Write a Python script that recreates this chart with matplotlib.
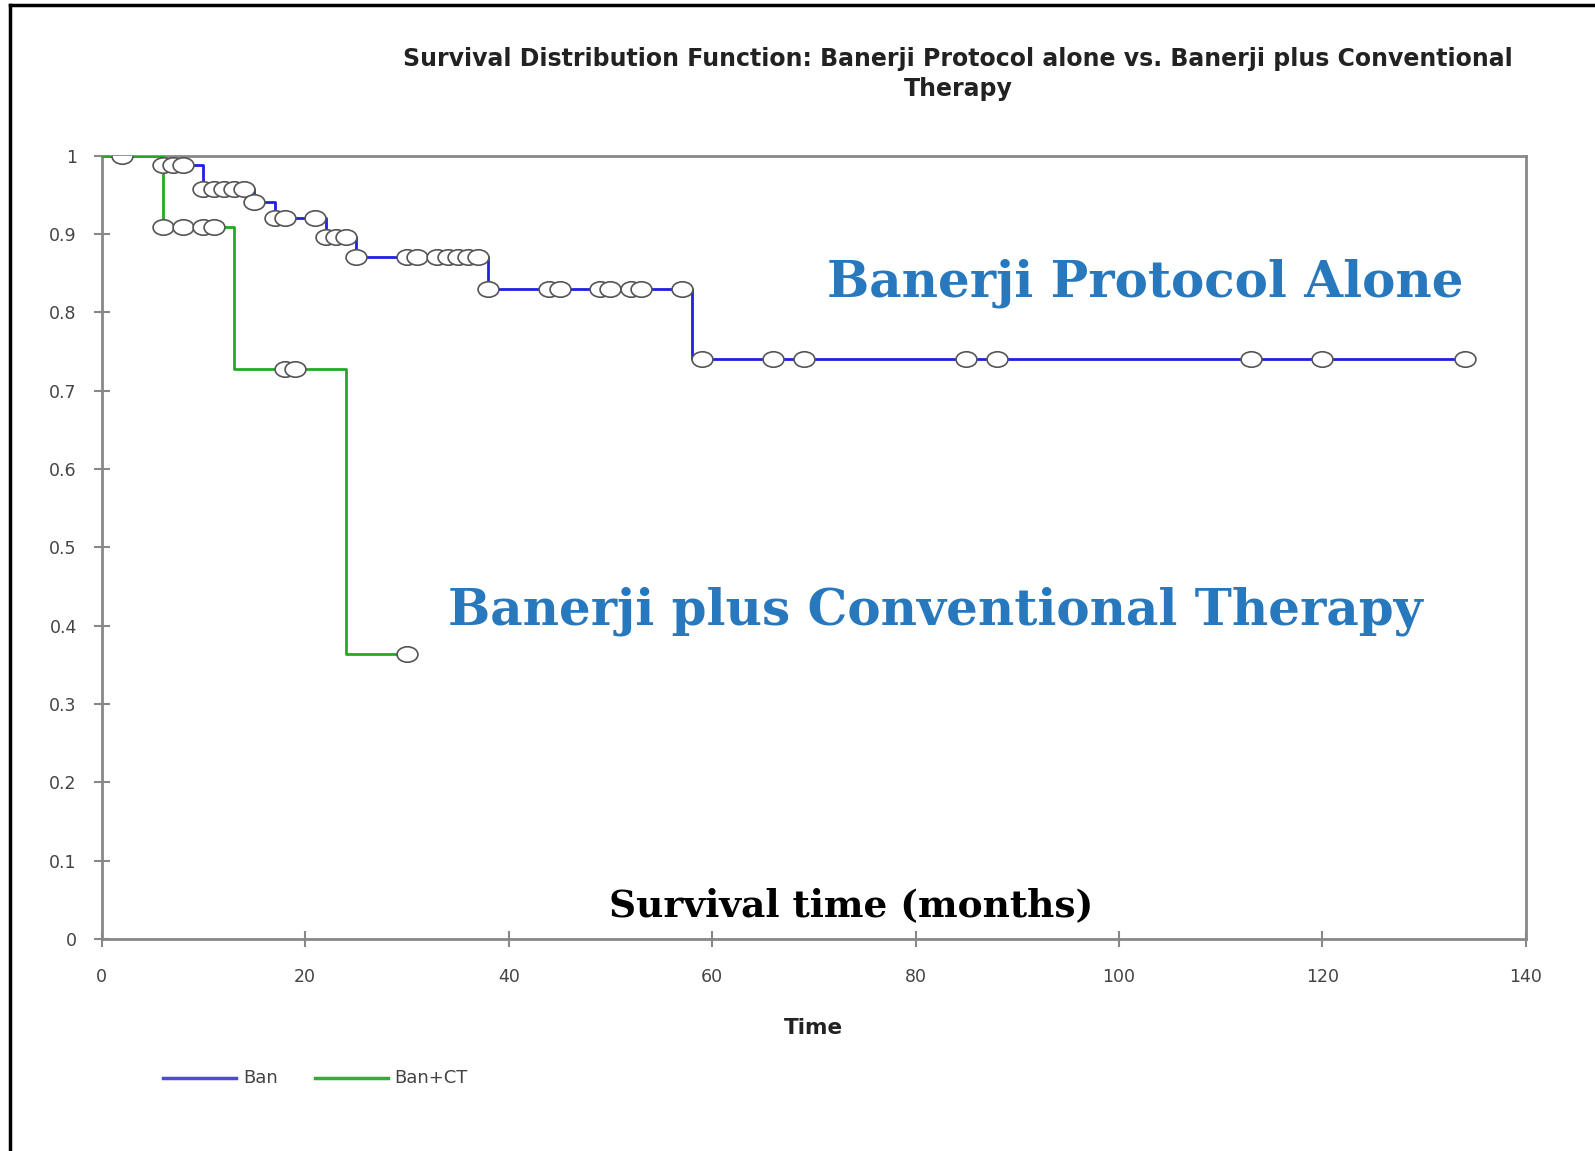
import numpy as np
import matplotlib.pyplot as plt
from matplotlib.path import Path
from matplotlib.transforms import Affine2D
from matplotlib.lines import Line2D

# Kaplan-Meier steps
ban_times = [0, 6, 10, 15, 17, 22, 25, 38, 58, 134]
ban_surv = [1.0, 0.988, 0.958, 0.941, 0.920, 0.896, 0.870, 0.830, 0.740, 0.740]
ban_censor = [6, 7, 8, 10, 11, 12, 13, 14, 15, 17, 18, 21, 22, 23, 24, 25,
              30, 31, 33, 34, 35, 36, 37, 38, 44, 45, 49, 50, 52, 53, 57,
              59, 66, 69, 85, 88, 113, 120, 134]

ct_times = [0, 6, 13, 24, 30]
ct_surv = [1.0, 0.909, 0.727, 0.364, 0.364]
ct_censor = [2, 6, 8, 10, 11, 18, 19, 30]

x_ticks = [0, 20, 40, 60, 80, 100, 120, 140]
y_ticks = [0, 0.1, 0.2, 0.3, 0.4, 0.5, 0.6, 0.7, 0.8, 0.9, 1]
y_labels = ['0', '0.1', '0.2', '0.3', '0.4', '0.5', '0.6', '0.7', '0.8', '0.9', '1']

BLUE = '#2020e0'
GREEN = '#22aa22'
TXT_BLUE = '#2878be'


def step_value(times, surv, t):
    i = np.searchsorted(times, t, side='right') - 1
    return np.asarray(surv)[i]


# flat ellipse marker for censored cases
oval = Path.unit_circle().transformed(Affine2D().scale(1.35, 1.0))

fig = plt.figure(figsize=(15.95, 11.51), dpi=100)
ax = fig.add_axes([0.0638, 0.1842, 0.8929, 0.6806])

ax.step(ban_times, ban_surv, where='post', color=BLUE, lw=2, zorder=2)
ax.step(ct_times, ct_surv, where='post', color=GREEN, lw=2, zorder=3)

ax.plot(ban_censor, step_value(ban_times, ban_surv, ban_censor), ls='none',
        marker=oval, ms=15, mfc='white', mec='#555555', mew=1.2, zorder=4)
ax.plot(ct_censor, step_value(ct_times, ct_surv, ct_censor), ls='none',
        marker=oval, ms=15, mfc='white', mec='#555555', mew=1.2, zorder=4)

ax.set_xlim(0, 140)
ax.set_ylim(0, 1)
ax.set_xticks(x_ticks)
ax.set_yticks(y_ticks)
ax.set_yticklabels(y_labels)
for s in ax.spines.values():
    s.set_color('#888888')
    s.set_linewidth(2)
ax.tick_params(axis='both', direction='inout', length=12, width=1.5,
               color='#888888', labelsize=12.5, labelcolor='#444444')
ax.tick_params(axis='y', pad=12)
ax.tick_params(axis='x', pad=15)
ax.tick_params(top=False, right=False)

ax.text(102.6, 0.837, 'Banerji Protocol Alone', family='DejaVu Serif',
        weight='bold', fontsize=36, color=TXT_BLUE, ha='center', va='center')
ax.text(81.9, 0.418, 'Banerji plus Conventional Therapy', family='DejaVu Serif',
        weight='bold', fontsize=36, color=TXT_BLUE, ha='center', va='center')
ax.text(73.7, 0.042, 'Survival time (months)', family='DejaVu Serif',
        weight='bold', fontsize=27, color='black', ha='center', va='center')

fig.text(0.6006, 0.9357,
         'Survival Distribution Function: Banerji Protocol alone vs. Banerji plus Conventional\nTherapy',
         ha='center', va='center', fontsize=17, weight='bold', color='#222222',
         linespacing=1.3)
fig.text(0.510, 0.1069, 'Time', ha='center', va='center', fontsize=15.5,
         weight='bold', color='#222222')

# legend drawn by hand at the bottom left
fig.add_artist(Line2D([163 / 1595, 236 / 1595], [1 - 1078 / 1151] * 2,
                      color='#4b4bd6', lw=2.5))
fig.text(243 / 1595, 1 - 1078 / 1151, 'Ban', va='center', fontsize=13, color='#444444')
fig.add_artist(Line2D([315 / 1595, 388 / 1595], [1 - 1078 / 1151] * 2,
                      color='#3aa83a', lw=2.5))
fig.text(394 / 1595, 1 - 1078 / 1151, 'Ban+CT', va='center', fontsize=13, color='#444444')

# outer chart border (left and top only are visible)
fig.add_artist(Line2D([10 / 1595, 10 / 1595], [0, 1 - 5 / 1151], color='black', lw=2.5))
fig.add_artist(Line2D([10 / 1595, 1], [1 - 5 / 1151] * 2, color='black', lw=2.5))

fig.savefig('out.png', dpi=100)
